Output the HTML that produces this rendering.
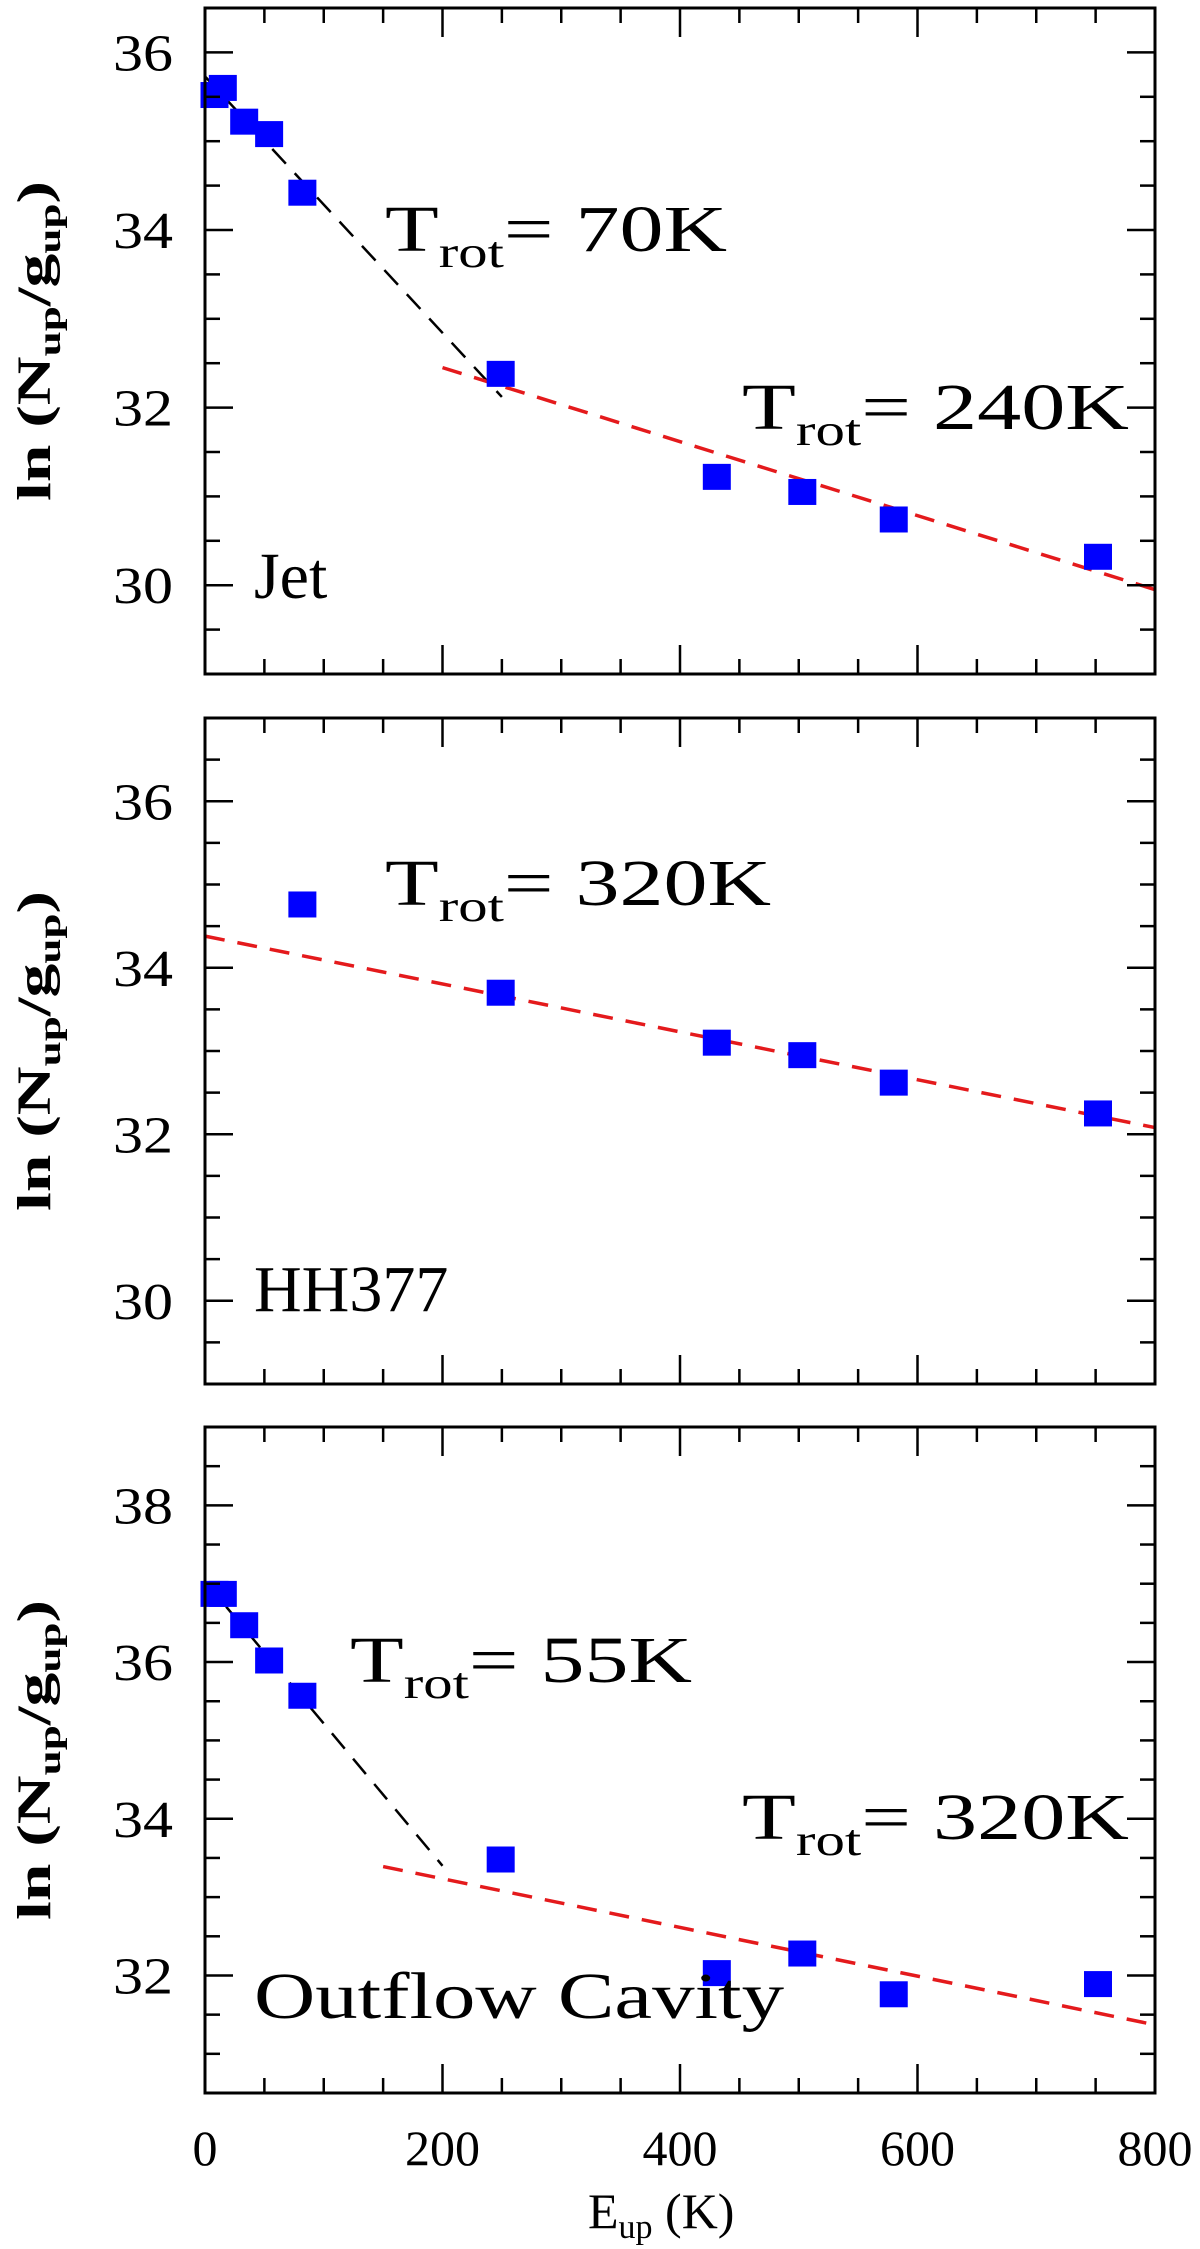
<!DOCTYPE html>
<html><head><meta charset="utf-8"><style>
html,body{margin:0;padding:0;background:#fff;overflow:hidden;width:1200px;height:2249px}
svg{display:block}
text{font-family:"Liberation Serif",serif;fill:#000}
</style></head><body>
<svg id="chart" width="1200" height="2249" viewBox="0 0 1200 2249" xmlns="http://www.w3.org/2000/svg"></svg>
<script>
const xTicks=[0,200,400,600,800];
const eup=[8,15,33,54,82,249,431,503,580,752];
const jetVals=[35.52,35.6,35.22,35.08,34.42,32.38,31.22,31.05,30.74,30.32];
const hhEup=[82,249,431,503,580,752];
const hhVals=[34.76,33.70,33.10,32.95,32.62,32.25];
const cavVals=[36.87,36.87,36.47,36.02,35.57,33.48,32.03,32.28,31.76,31.89];
const jetYTicks=[30,32,34,36];
const hhYTicks=[30,32,34,36];
const cavYTicks=[32,34,36,38];
const jetColdFit=[[0,35.73],[250,32.12]];
const jetWarmFit=[[200,32.45],[800,29.95]];
const hhFit=[[0,34.38],[800,32.08]];
const cavColdFit=[[0,37.03],[200,33.40]];
const cavWarmFit=[[150,33.39],[800,31.37]];

const NS="http://www.w3.org/2000/svg";
const svg=document.getElementById('chart');
function mk(tag,attrs,parent){const e=document.createElementNS(NS,tag);for(const k in attrs)e.setAttribute(k,attrs[k]);(parent||svg).appendChild(e);return e;}
const L=205,R=1155;
function sx(v){return L+(v/800)*(R-L);}

const panels=[
 {name:'jet',top:8,bot:674,ymin:29,ymax:36.5,yt:jetYTicks,xs:eup,ys:jetVals,fits:[[jetColdFit,'#000'],[jetWarmFit,'#e41a1c']],
  label:'Jet',lab:[254,598],temps:[['70K',385,251,342],['240K',742,429,387]],xlabels:false},
 {name:'hh377',top:718,bot:1384,ymin:29,ymax:37,yt:hhYTicks,xs:hhEup,ys:hhVals,fits:[[hhFit,'#e41a1c']],
  label:'HH377',lab:[254,1311],temps:[['320K',385,905,386]],xlabels:false},
 {name:'outflow-cavity',top:1427,bot:2093,ymin:30.5,ymax:39,yt:cavYTicks,xs:eup,ys:cavVals,fits:[[cavColdFit,'#000'],[cavWarmFit,'#e41a1c']],
  label:'Outflow Cavity',lab:[254,2018],temps:[['55K',350,1682,342],['320K',742,1839,387]],xlabels:true}
];

panels.forEach(p=>{
  const g=mk('g',{});
  
  
  const sy=v=>p.bot-(v-p.ymin)/(p.ymax-p.ymin)*(p.bot-p.top);
  p.fits.forEach((f,i)=>{
    const pts=f[0],col=f[1];
    const ln=mk('line',{x1:sx(pts[0][0]),y1:sy(pts[0][1]),x2:sx(pts[1][0]),y2:sy(pts[1][1]),stroke:col,'stroke-width':col=='#000'?2.5:3.5,'stroke-dasharray':'20 13'},g);
    
    
  });
  p.xs.forEach((x,i)=>{
    const r=mk('rect',{x:sx(x)-14,y:sy(p.ys[i])-13,width:28,height:26,fill:'#0000ff'},g);
    
    
  });
  const fr=mk('rect',{x:L,y:p.top,width:R-L,height:p.bot-p.top,fill:'none',stroke:'#000','stroke-width':3},g);
  
  
  for(let v=0;v<=800;v+=50){
    const len=(v%200==0)?29:15;
    mk('line',{x1:sx(v),y1:p.bot,x2:sx(v),y2:p.bot-len,stroke:'#000','stroke-width':2.5},g);
    mk('line',{x1:sx(v),y1:p.top,x2:sx(v),y2:p.top+len,stroke:'#000','stroke-width':2.5},g);
  }
  for(let v=Math.ceil(p.ymin*2)/2;v<=p.ymax+1e-9;v+=0.5){
    const len=(Math.abs(v%2)<1e-9)?28:15;
    mk('line',{x1:L,y1:sy(v),x2:L+len,y2:sy(v),stroke:'#000','stroke-width':2.5},g);
    mk('line',{x1:R,y1:sy(v),x2:R-len,y2:sy(v),stroke:'#000','stroke-width':2.5},g);
  }
  p.yt.forEach(v=>{
    const t=mk('text',{x:173,y:sy(v)+18,'font-size':52,'text-anchor':'end',textLength:60,lengthAdjust:'spacingAndGlyphs'},g);
    t.textContent=v;
    
    
  });
  if(p.xlabels){
    xTicks.forEach(v=>{
      const t=mk('text',{x:sx(v),y:2165,'font-size':50,'text-anchor':'middle'},g);
      t.textContent=v;
      
      
    });
  }
  const cy=(p.top+p.bot)/2;
  const yt=mk('text',{x:0,y:0,'font-size':48,'text-anchor':'middle','font-weight':'bold',transform:`translate(50,${cy}) rotate(-90)`,textLength:320,lengthAdjust:'spacingAndGlyphs'},g);
  yt.innerHTML='ln  (N<tspan font-size="32" dy="10">up</tspan><tspan dy="-10">/g</tspan><tspan font-size="32" dy="10">up</tspan><tspan dy="-10">)</tspan>';
  
  
  const lb=mk('text',{x:p.lab[0],y:p.lab[1],'font-size':66},g);
  lb.textContent=p.label;
  
  
  if(p.label==='Outflow Cavity'){lb.setAttribute('textLength',530);lb.setAttribute('lengthAdjust','spacingAndGlyphs');}
  p.temps.forEach(tp=>{
    const t=mk('text',{x:tp[1],y:tp[2],'font-size':66},g);
    t.innerHTML='T<tspan font-size="44" dy="16">rot</tspan><tspan dy="-16">=  '+tp[0]+'</tspan>';
    
    
    t.setAttribute('textLength',tp[3]);
    t.setAttribute('lengthAdjust','spacingAndGlyphs');
  });
});
const xt=mk('text',{x:588,y:2228,'font-size':50});
xt.innerHTML='E<tspan font-size="34" dy="10">up</tspan><tspan dy="-10"> (K)</tspan>';


</script>
</body></html>
